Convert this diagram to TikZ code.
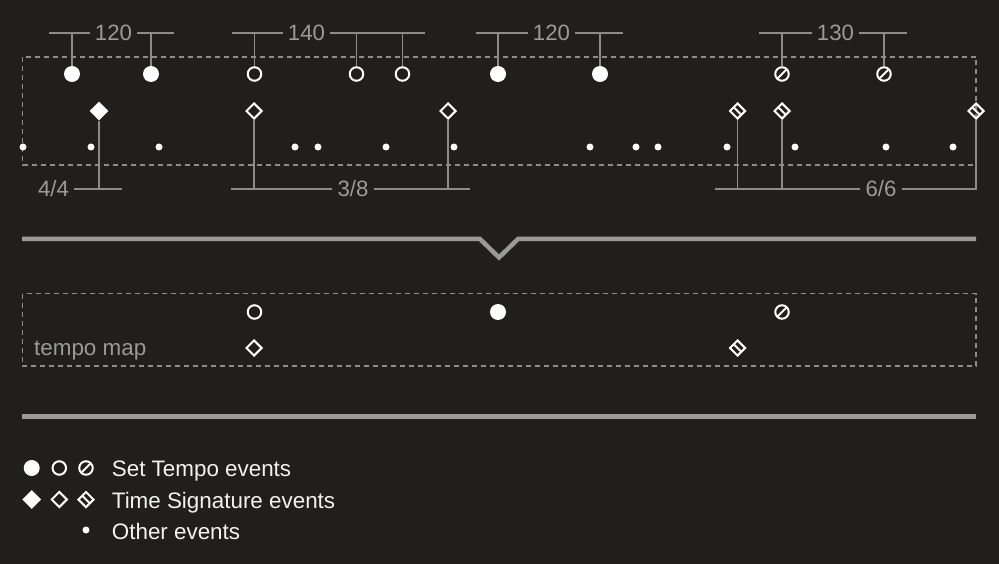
\documentclass[tikz,border=0pt]{standalone}
\usepackage{fontspec}
\setmainfont{Liberation Sans}
\usetikzlibrary{shapes.geometric,calc}
\definecolor{bg}{HTML}{201F1E}
\definecolor{ln}{HTML}{8C8C8C}
\definecolor{tk}{HTML}{999999}
\definecolor{labc}{HTML}{9A9A9A}
\definecolor{fg}{HTML}{FFFFFF}
\definecolor{lg}{HTML}{F2F2F2}
\begin{document}
\begin{tikzpicture}[x=1pt,y=-1pt,
 tfull/.style={circle,fill=fg,minimum size=16pt,inner sep=0pt},
 topen/.style={circle,draw=fg,line width=2pt,minimum size=13.5pt,inner sep=0pt},
 tslash/.style={topen,path picture={\draw[fg,line width=2pt] (path picture bounding box.south west) -- (path picture bounding box.north east);}},
 sfull/.style={diamond,fill=fg,minimum size=19pt,inner sep=0pt},
 sopen/.style={diamond,draw=fg,line width=2pt,minimum size=16pt,inner sep=0pt},
 sstripe/.style={sopen,path picture={\draw[fg,line width=2pt] ($(path picture bounding box.west)!0.5!(path picture bounding box.north)$) -- ($(path picture bounding box.east)!0.5!(path picture bounding box.south)$);}},
 evdot/.style={circle,fill=fg,minimum size=7pt,inner sep=0pt},
 framebox/.style={draw=ln,dash pattern=on 5pt off 4pt,line width=1.2pt},
 brk/.style={draw=ln,line width=1.5pt},
 lab/.style={text=labc,font=\fontsize{22.2}{26}\selectfont,inner xsep=5pt,inner ysep=0pt,text height=15.5pt,text depth=0pt},
 legtext/.style={text=lg,font=\fontsize{22.4}{26}\selectfont,inner sep=0pt,anchor=base west},
 thk/.style={draw=tk,line width=4.5pt},
]
\fill[bg] (0,0) rectangle (999,564);
\useasboundingbox (0,0) rectangle (999,564);

% top frame
\draw[framebox] (22.5,57) rectangle (976,165);

% tempo events
\node[tfull] (a1) at (72,74) {};
\node[tfull] (a2) at (151,74) {};
\node[topen] (a3) at (254.5,74) {};
\node[topen] (a4) at (356.5,74) {};
\node[topen] (a5) at (402.5,74) {};
\node[tfull] (a6) at (498,74) {};
\node[tfull] (a7) at (600,74) {};
\node[tslash] (a8) at (782,74) {};
\node[tslash] (a9) at (884,74) {};

% time signature events
\node[sfull] (d1) at (99,111) {};
\node[sopen] (d2) at (254,111) {};
\node[sopen] (d3) at (448,111) {};
\node[sstripe] (d4) at (737.5,111) {};
\node[sstripe] (d5) at (782,111) {};
\node[sstripe] (d6) at (976,111) {};

% other events
\foreach \x [count=\i] in {23,91,159,295,318,386,454,590,636,658,727,795,886,953}
  \node[evdot] (e\i) at (\x,147) {};

% tempo brackets
\node[lab] (b1) at (113.5,33) {120};
\coordinate (b1l) at (49,33); \coordinate (b1r) at (174,33);
\draw[brk] (b1l) -- (b1) (b1) -- (b1r);
\draw[brk] (a1) -- (a1 |- b1) (a2) -- (a2 |- b1);

\node[lab] (b2) at (306.5,33) {140};
\coordinate (b2l) at (232,33); \coordinate (b2r) at (425,33);
\draw[brk] (b2l) -- (b2) (b2) -- (b2r);
\draw[brk] (a3) -- (a3 |- b2) (a4) -- (a4 |- b2) (a5) -- (a5 |- b2);

\node[lab] (b3) at (551.5,33) {120};
\coordinate (b3l) at (475.7,33); \coordinate (b3r) at (622.7,33);
\draw[brk] (b3l) -- (b3) (b3) -- (b3r);
\draw[brk] (a6) -- (a6 |- b3) (a7) -- (a7 |- b3);

\node[lab] (b4) at (835.5,33) {130};
\coordinate (b4l) at (759,33); \coordinate (b4r) at (906.7,33);
\draw[brk] (b4l) -- (b4) (b4) -- (b4r);
\draw[brk] (a8) -- (a8 |- b4) (a9) -- (a9 |- b4);

% signature brackets
\node[lab] (c1) at (53.5,189) {4/4};
\coordinate (c1r) at (121.7,189);
\draw[brk] (c1) -- (c1r);
\draw[brk] (d1) -- (d1 |- c1);

\node[lab] (c2) at (353,189) {3/8};
\coordinate (c2l) at (231,189); \coordinate (c2r) at (470,189);
\draw[brk] (c2l) -- (c2) (c2) -- (c2r);
\draw[brk] (d2) -- (d2 |- c2) (d3) -- (d3 |- c2);

\node[lab] (c3) at (881,189) {6/6};
\coordinate (c3l) at (715,189); \coordinate (c3r) at (976,189);
\draw[brk] (c3l) -- (c3) (c3) -- (c3r) -- (d6);
\draw[brk] (d4) -- (d4 |- c3) (d5) -- (d5 |- c3);

% funnel line
\draw[thk] (22,239) -- (480,239) -- (499,257.5) -- (518,239) -- (976,239);

% tempo map
\draw[framebox] (22.5,293.5) rectangle (976,366);
\node[topen] (m1) at (254.5,312) {};
\node[tfull] (m2) at (498,312) {};
\node[tslash] (m3) at (782,312) {};
\node[sopen] (m4) at (254,348) {};
\node[sstripe] (m5) at (737.5,348) {};
\node[legtext,text=labc] (tm) at (34,355) {tempo map};

\draw[thk] (22,416.5) -- (976,416.5);

% legend
\node[tfull] (l1) at (31.7,468) {};
\node[topen] (l2) at (59.3,468) {};
\node[tslash] (l3) at (86,468) {};
\node[sfull] (l4) at (31.7,499.5) {};
\node[sopen] (l5) at (59.3,499.5) {};
\node[sstripe] (l6) at (86,499.5) {};
\node[evdot] (l7) at (86,530) {};
\node[legtext] (lt1) at (111.7,476) {Set Tempo events};
\node[legtext] (lt2) at (111.7,508.3) {Time Signature events};
\node[legtext] (lt3) at (111.7,539) {Other events};
\end{tikzpicture}
\end{document}
